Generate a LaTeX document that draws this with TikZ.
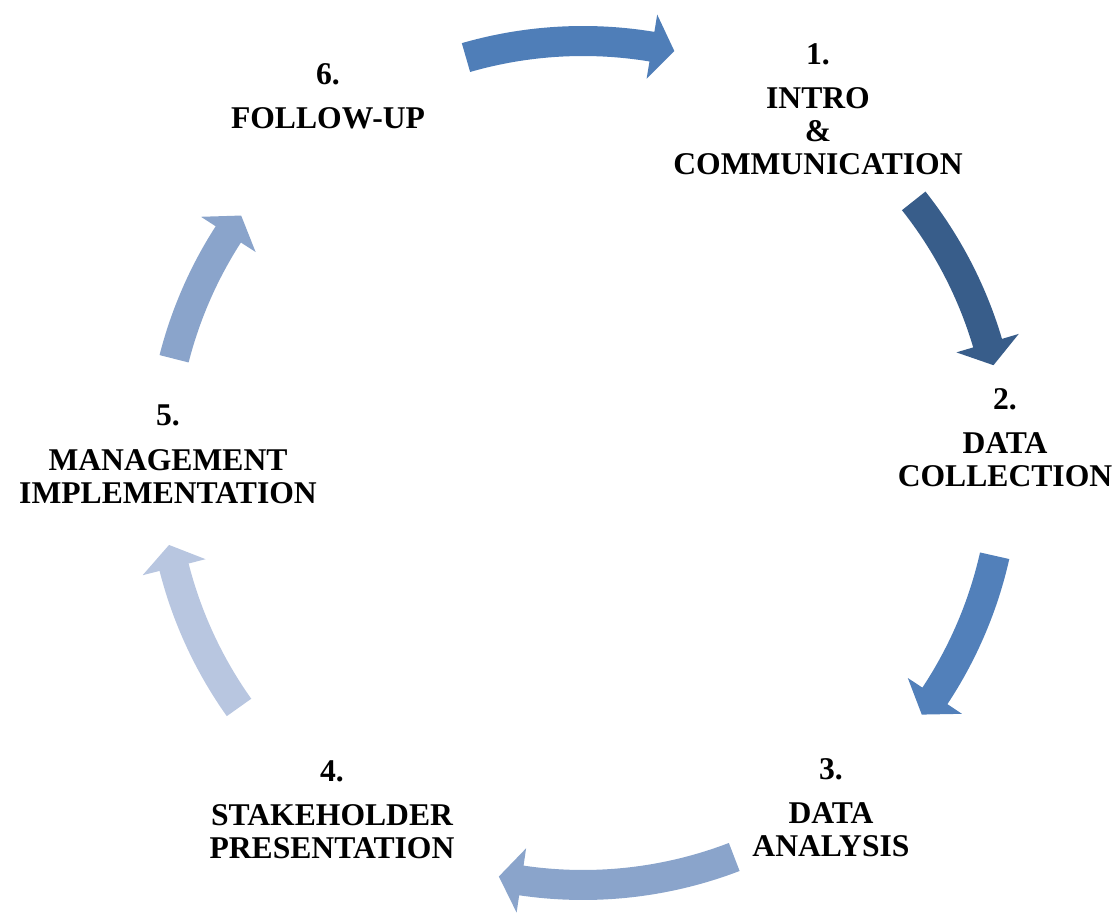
\documentclass[tikz,border=0pt]{standalone}
\usepackage{fontspec}
\setmainfont{Liberation Serif}
\usepackage{xcolor}
\usepackage{tikz}
\usetikzlibrary{calc,positioning}

\definecolor{arrowA}{HTML}{4F7EB8}
\definecolor{arrowB}{HTML}{385D8A}
\definecolor{arrowC}{HTML}{5280BA}
\definecolor{arrowD}{HTML}{8AA4CB}
\definecolor{arrowE}{HTML}{B8C6E0}

\newcommand{\stagefont}{\fontsize{22.5}{23.4}\selectfont\bfseries}

% 环形箭头: #1 颜色, #2 起始角, #3 箭头尖角度
\newcommand{\cyclearrow}[3]{%
  \fill[#1] (#2:\rIn) arc[start angle=#2, end angle={#3+\headAng}, radius=\rIn]
    -- ({#3+\headAng}:\rHeadIn) -- (#3:\rMid) -- ({#3+\headAng}:\rHeadOut)
    -- ({#3+\headAng}:\rOut) arc[start angle={#3+\headAng}, end angle=#2, radius=\rOut]
    -- cycle;}

\tikzset{stage/.style={align=center, anchor=north, inner sep=0pt, font=\stagefont}}

\begin{document}
\begin{tikzpicture}
  \useasboundingbox (-14.575,-11.3) rectangle (13.425,11.575);
  \coordinate (c) at (0,0);
  \def\rMid{10.55}
  \def\rIn{10.175}
  \def\rOut{10.925}
  \def\rHeadIn{9.7375}
  \def\rHeadOut{11.3625}
  \def\headAng{3.1}
  % 六个箭头, 顺时针
  \cyclearrow{arrowA}{106.1}{77.5}
  \cyclearrow{arrowB}{38.4}{13.4}
  \cyclearrow{arrowC}{-12.7}{-36.6}
  \cyclearrow{arrowD}{-69}{-101.5}
  \cyclearrow{arrowE}{-144.6}{-168.8}
  \cyclearrow{arrowD}{165.7}{144.1}
  % 各阶段文字
  \node[stage] (intro) at (5.875,10.5) {1.\\[8pt]INTRO\\\&\\COMMUNICATION};
  \node[stage] (collect) at (10.55,1.875) {2.\\[8pt]DATA\\COLLECTION};
  \node[stage] (analysis) at (6.2,-7.375) {3.\\[8pt]DATA\\ANALYSIS};
  \node[stage] (present) at (-6.275,-7.425) {4.\\[8pt]STAKEHOLDER\\PRESENTATION};
  \node[stage] (manage) at (-10.375,1.45) {5.\\[8pt]MANAGEMENT\\IMPLEMENTATION};
  \node[stage] (follow) at (-6.375,10.0) {6.\\[8pt]FOLLOW-UP};
\end{tikzpicture}
\end{document}
